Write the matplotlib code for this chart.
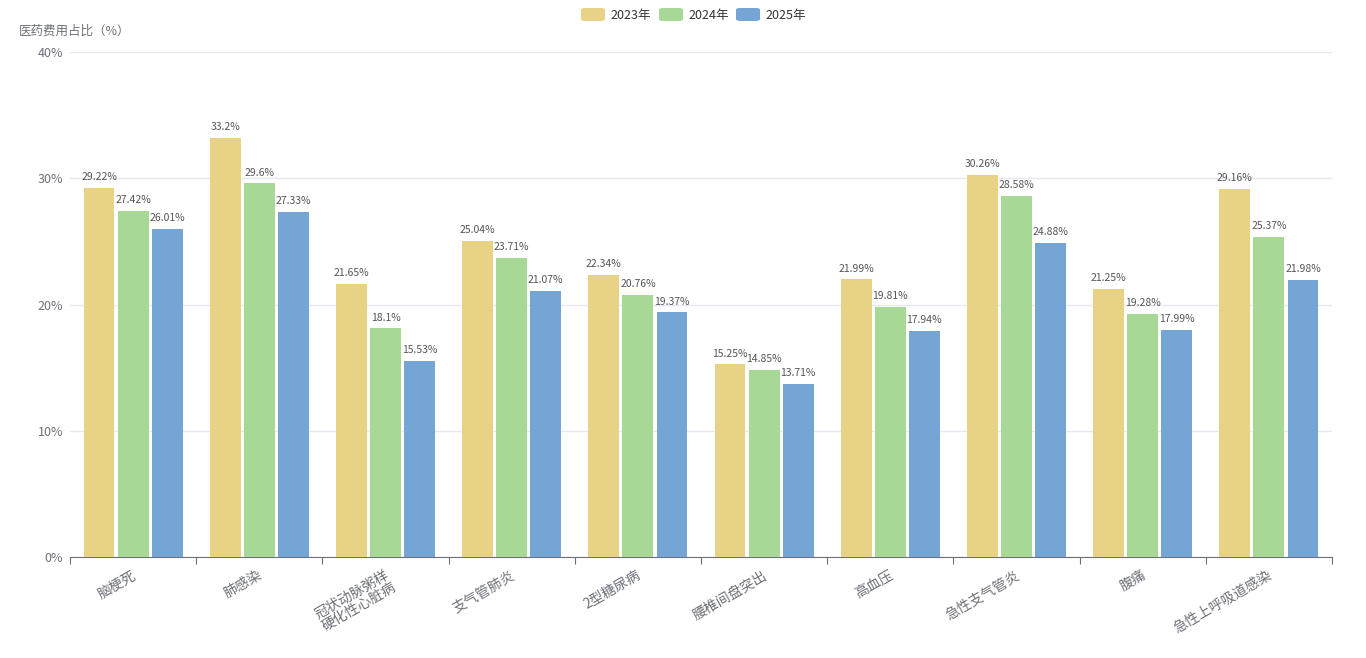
import matplotlib
matplotlib.use("Agg")
import matplotlib.pyplot as plt
from matplotlib.patches import FancyBboxPatch
import numpy as np

plt.rcParams['font.family'] = ['Noto Sans CJK SC', 'DejaVu Sans']

categories = ["脑梗死", "肺感染", "冠状动脉粥样\n硬化性心脏病", "支气管肺炎", "2型糖尿病",
              "腰椎间盘突出", "高血压", "急性支气管炎", "腹痛", "急性上呼吸道感染"]
series_names = ["2023年", "2024年", "2025年"]
v2023 = [29.22, 33.2, 21.65, 25.04, 22.34, 15.25, 21.99, 30.26, 21.25, 29.16]
v2024 = [27.42, 29.6, 18.1, 23.71, 20.76, 14.85, 19.81, 28.58, 19.28, 25.37]
v2025 = [26.01, 27.33, 15.53, 21.07, 19.37, 13.71, 17.94, 24.88, 17.99, 21.98]
yticks = [0, 10, 20, 30, 40]
colors = ["#E8D286", "#A7D896", "#74A5D5"]

fig = plt.figure(figsize=(13.66, 6.58), dpi=100)
ax = fig.add_axes([70/1366, 101/658, 1262/1366, 505/658])

n = len(categories)
x = np.arange(n)
width = 0.245
offsets = [-0.27, 0.0, 0.27]
for vals, off, col, name in zip([v2023, v2024, v2025], offsets, colors, series_names):
    bars = ax.bar(x + off, vals, width, color=col, label=name, zorder=3)
    for b, v in zip(bars, vals):
        ax.text(b.get_x() + b.get_width()/2, v + 0.45, f"{v:g}%", ha='center', va='bottom',
                fontsize=7.5, color='#555555', zorder=4)

ax.set_xlim(-0.5, n - 0.5)
ax.set_ylim(0, 40)
ax.set_yticks(yticks)
ax.set_yticklabels([f"{t}%" for t in yticks], fontsize=9, color='#6E7079')
ax.yaxis.grid(True, color='#E6E9F0', linewidth=1, zorder=0)
ax.tick_params(axis='y', length=0, pad=5)

ax.set_xticks(np.arange(n + 1) - 0.5, minor=False)
ax.set_xticklabels([])
ax.tick_params(axis='x', length=5, color='#6E7079', direction='out')
for i, c in enumerate(categories):
    ax.annotate(c, xy=(i, 0), xycoords=('data', 'axes fraction'), xytext=(-1, -8),
                textcoords='offset points', rotation=30, ha='right', va='top',
                rotation_mode='anchor', fontsize=10, color='#6E7079',
                linespacing=1.0, multialignment='center')

for s in ['top', 'right', 'left']:
    ax.spines[s].set_visible(False)
ax.spines['bottom'].set_color('#6E7079')

fig.text(19/1366, 1 - 31/658, "医药费用占比（%）", fontsize=9, color='#6E7079', ha='left', va='center')

# legend
leg_x = [581, 659, 736]
for lx, col, name in zip(leg_x, colors, series_names):
    p = FancyBboxPatch((lx/1366, 1 - 21/658), 24/1366, 13/658,
                       boxstyle="round,pad=0,rounding_size=0.003", transform=fig.transFigure,
                       facecolor=col, edgecolor='none')
    fig.patches.append(p)
    fig.text((lx + 29)/1366, 1 - 15/658, name, fontsize=9, color='#333333', ha='left', va='center')

fig.savefig("out.png", dpi=100)
